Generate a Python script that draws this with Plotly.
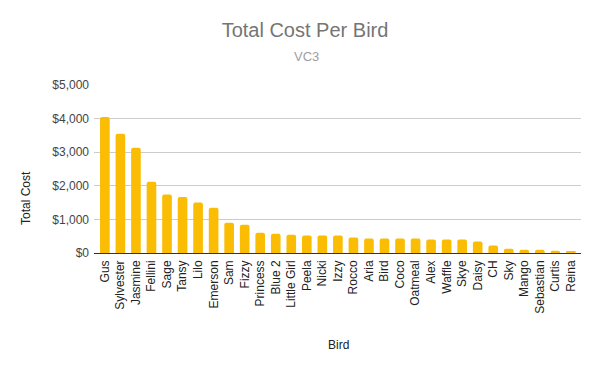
import plotly.graph_objects as go

birds = ["Gus", "Sylvester", "Jasmine", "Fellini", "Sage", "Tansy", "Lilo", "Emerson",
         "Sam", "Fizzy", "Princess", "Blue 2", "Little Girl", "Peela", "Nicki", "Izzy",
         "Rocco", "Aria", "Bird", "Coco", "Oatmeal", "Alex", "Waffle", "Skye", "Daisy",
         "CH", "Sky", "Mango", "Sebastian", "Curtis", "Reina"]
total_cost = [4050, 3550, 3130, 2120, 1740, 1670, 1500, 1350,
              900, 840, 605, 575, 545, 520, 520, 520,
              465, 435, 435, 435, 435, 405, 405, 405, 345,
              220, 130, 100, 100, 70, 40]
y_ticks = [0, 1000, 2000, 3000, 4000, 5000]
y_tick_labels = ["$0", "$1,000", "$2,000", "$3,000", "$4,000", "$5,000"]

FONT = "Liberation Sans, Arial, sans-serif"
W, H = 600, 371
pl, pr, pt, pb = 94, W - 19, 85, H - 118


def px_x(x):
    return (x - pl) / (pr - pl)


def px_y(y):
    return (pb - y) / (pb - pt)


fig = go.Figure(go.Bar(
    x=birds, y=total_cost,
    marker=dict(color="#FBBC04", line=dict(width=0), cornerradius=2),
))

fig.update_layout(
    width=W, height=H,
    margin=dict(l=pl, r=W - pr, t=pt, b=H - pb, autoexpand=False),
    paper_bgcolor="white", plot_bgcolor="white",
    bargap=0.38,
    showlegend=False,
    font=dict(family=FONT, size=12, color="#222222"),
    title=dict(text="Total Cost Per Bird", x=305 / W, xanchor="center",
               y=1 - 30 / H, yanchor="middle", yref="container",
               font=dict(family=FONT, size=20, color="#757575")),
    xaxis=dict(
        type="category", range=[-0.7, 30.65], tickangle=-90,
        showgrid=False, showline=False, zeroline=False, ticks="",
        tickfont=dict(family=FONT, size=12, color="#222222"),
        ticklabelstandoff=4,
        automargin=False, fixedrange=True,
    ),
    yaxis=dict(
        range=[0, 5000], tickvals=y_ticks, ticktext=y_tick_labels,
        showgrid=True, gridcolor="#cccccc", gridwidth=1,
        zeroline=True, zerolinecolor="#333333", zerolinewidth=1,
        showline=False, ticks="",
        tickfont=dict(family=FONT, size=12, color="#444444"),
        ticklabelstandoff=4,
        automargin=False, fixedrange=True,
    ),
    annotations=[
        dict(text="VC3", x=px_x(306), y=px_y(57), xref="paper", yref="paper",
             xanchor="center", yanchor="middle", showarrow=False,
             font=dict(family=FONT, size=13, color="#a0a0a0")),
        dict(text="Total Cost", x=px_x(26), y=px_y(198), xref="paper", yref="paper",
             showarrow=False, textangle=-90, xanchor="center", yanchor="middle",
             font=dict(family=FONT, size=12, color="#222222")),
        dict(text="Bird", x=px_x(338), y=px_y(345), xref="paper", yref="paper",
             showarrow=False, xanchor="center", yanchor="middle",
             font=dict(family=FONT, size=12, color="#222222")),
    ],
)

fig.write_html("out.html",
               config={"displayModeBar": False},
               post_script="document.body.style.margin='0';document.body.style.overflow='hidden';")
